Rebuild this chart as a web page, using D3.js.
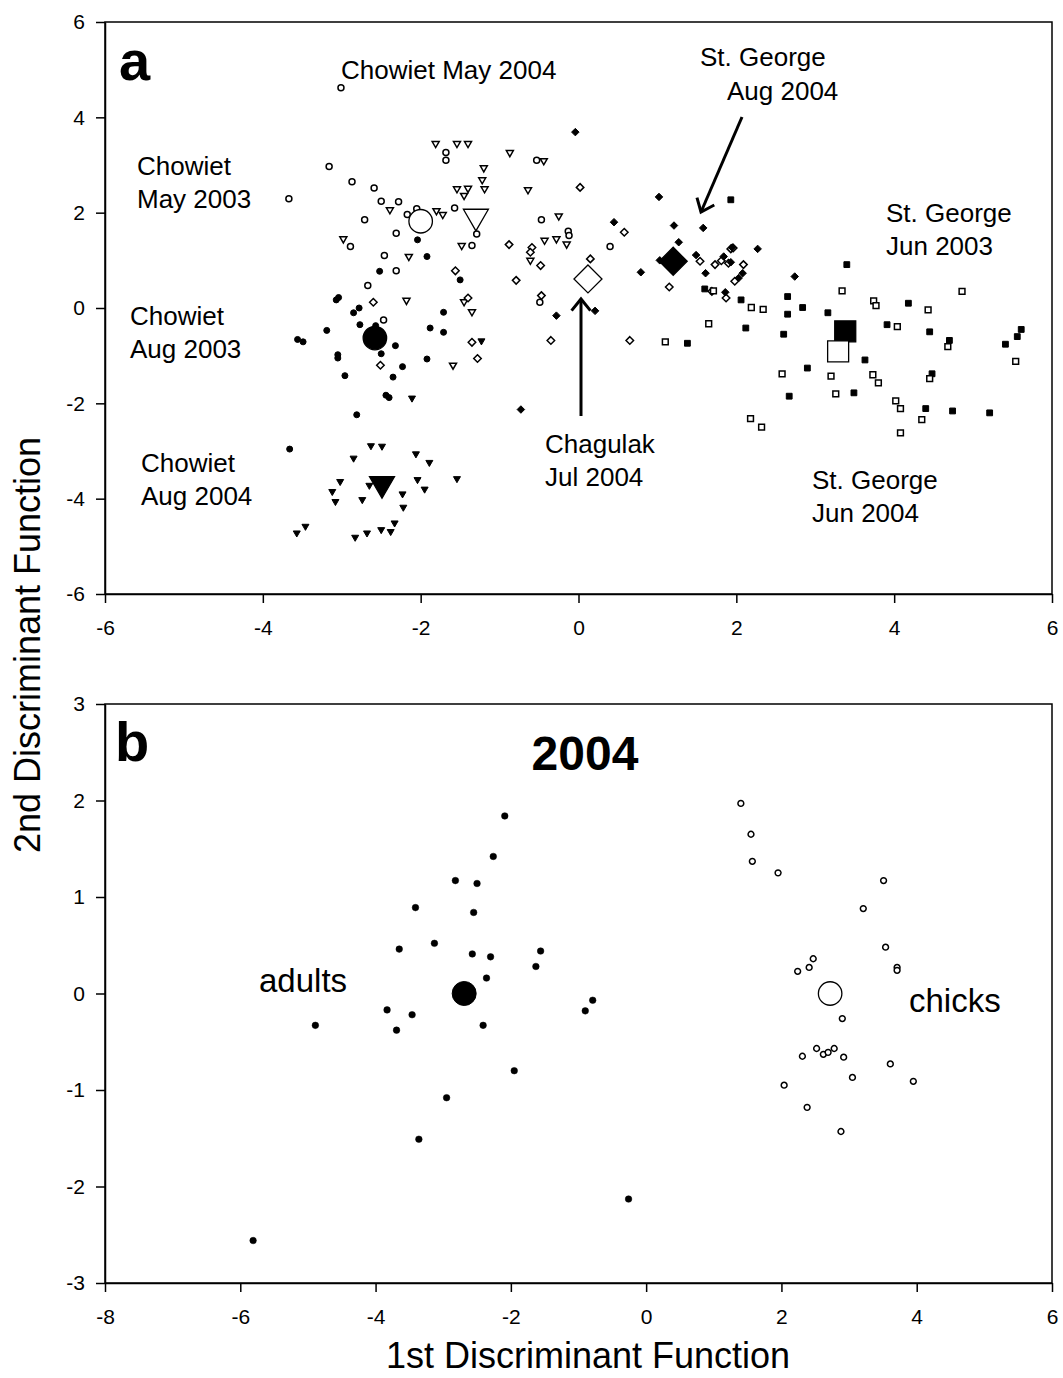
<!DOCTYPE html>
<html>
<head>
<meta charset="utf-8">
<script src="https://cdnjs.cloudflare.com/ajax/libs/d3/7.8.5/d3.min.js"></script>
<style>
	body { margin: 0; background: #fff; }
	svg { display: block; font-family: Arial, 'Liberation Sans', sans-serif; }
</style>
</head>
<body>
<svg id="chart" width="1063" height="1378"></svg>
<script>

// ---- panel a : [1st DF, 2nd DF]
var chowMay03 = [[-3.67,2.29],[-3.16,2.97],[-2.87,2.65],[-2.59,2.52],[-2.50,2.24],[-2.28,2.23],[-2.71,1.85],[-2.17,1.96],
	[-2.05,2.08],[-1.68,3.26],[-1.68,3.10],[-1.57,2.10],[-1.29,1.55],[-1.35,1.31],[-2.89,1.29],[-2.46,1.10],[-2.31,0.78],
	[-2.67,0.47],[-2.31,1.57],[-2.47,-0.25],[-0.53,3.10],[-0.47,1.85],[-0.13,1.61],[-0.12,1.52],[0.40,1.29],[-0.49,0.12],[-3.01,4.62]];
var chowMay04 = [[-1.81,3.45],[-1.54,3.45],[-1.40,3.45],[-0.87,3.26],[-1.20,2.94],[-1.22,2.69],[-1.54,2.50],[-1.40,2.51],
	[-1.45,2.36],[-1.19,2.50],[-2.39,2.06],[-1.80,2.04],[-1.72,1.96],[-2.98,1.45],[-1.48,1.31],[-2.15,1.08],[-2.18,0.16],
	[-1.35,-0.08],[-1.45,0.13],[-1.59,-1.20],[-0.44,3.09],[-0.64,2.48],[-0.25,1.93],[-0.43,1.42],[-0.28,1.45],[-0.15,1.34],[-0.61,1.00]];
var chowAug03 = [[-2.04,1.43],[-1.92,1.08],[-2.52,0.77],[-1.50,0.59],[-3.07,0.17],[-3.04,0.22],[-2.85,-0.10],[-2.78,0.00],
	[-1.71,-0.09],[-3.19,-0.47],[-2.77,-0.35],[-2.57,-0.37],[-3.56,-0.66],[-3.49,-0.71],[-2.32,-0.79],[-1.88,-0.42],[-1.71,-0.51],
	[-2.50,-0.96],[-3.05,-0.98],[-3.05,-1.05],[-1.92,-1.07],[-2.23,-1.23],[-2.96,-1.42],[-2.35,-1.45],[-2.44,-1.83],[-2.40,-1.88],
	[-2.81,-2.24],[-3.66,-2.96]];
var chowAug04 = [[-2.63,-2.89],[-2.49,-2.90],[-2.85,-3.15],[-2.06,-3.06],[-1.89,-3.24],[-3.02,-3.64],[-3.12,-3.85],[-3.08,-4.06],
	[-2.65,-3.72],[-2.74,-4.02],[-2.23,-3.90],[-2.04,-3.60],[-1.95,-3.80],[-1.54,-3.58],[-2.22,-4.18],[-2.33,-4.51],[-2.38,-4.69],
	[-2.50,-4.65],[-2.68,-4.72],[-2.83,-4.81],[-3.46,-4.58],[-3.57,-4.72],[-2.11,-1.89],[-1.23,-0.69]];
var chagJul04 = [[-0.88,1.33],[-0.79,0.58],[-1.56,0.78],[-1.40,0.21],[-2.60,0.12],[-1.35,-0.72],[-1.28,-1.06],[-2.51,-1.20],
	[0.02,2.53],[-0.59,1.27],[-0.61,1.17],[-0.48,0.89],[0.15,1.03],[-0.47,0.26],[0.58,1.59],[1.15,0.44],[1.54,0.98],[1.73,0.91],
	[1.81,0.99],[1.90,0.94],[1.93,1.24],[1.96,1.26],[2.09,0.91],[1.98,0.56],[1.69,0.35],[1.87,0.21],[-0.35,-0.68],[0.65,-0.68]];
var stgAug04 = [[-0.04,3.69],[1.02,2.33],[0.45,1.80],[1.21,1.73],[1.58,1.68],[1.27,1.38],[1.49,1.11],[1.03,1.00],[1.61,0.73],
	[0.79,0.75],[1.84,1.08],[1.95,1.27],[1.93,0.96],[2.08,0.73],[2.03,0.63],[1.86,0.33],[2.27,1.24],[-0.28,-0.16],[0.21,-0.06],
	[2.74,0.66],[-0.73,-2.13]];
var stgJun03 = [[1.93,2.27],[3.40,0.91],[1.60,0.40],[2.06,0.17],[2.65,0.24],[2.84,0.01],[2.65,-0.13],[3.16,-0.10],[2.12,-0.42],
	[2.60,-0.55],[1.38,-0.74],[4.18,0.10],[3.91,-0.35],[4.45,-0.50],[4.70,-0.68],[3.63,-1.09],[2.90,-1.26],[2.67,-1.85],
	[3.49,-1.78],[4.48,-1.38],[4.40,-2.11],[4.74,-2.16],[5.21,-2.20],[5.61,-0.45],[5.56,-0.60],[5.41,-0.76]];
var stgJun04 = [[1.65,-0.33],[2.19,0.01],[2.34,-0.03],[3.34,0.36],[3.74,0.15],[3.77,0.05],[4.43,-0.04],[4.04,-0.39],[4.86,0.35],
	[4.68,-0.81],[5.54,-1.12],[2.58,-1.38],[3.20,-1.43],[3.73,-1.40],[3.80,-1.57],[4.45,-1.48],[3.26,-1.80],[4.02,-1.95],
	[4.08,-2.11],[4.35,-2.34],[4.08,-2.62],[2.18,-2.32],[2.32,-2.50],[1.71,0.36],[1.10,-0.71]];
// group means
var centroidsA = [[-2.00,1.82],[-1.30,1.92],[-2.58,-0.63],[-2.49,-3.69],[0.12,0.61],[1.20,0.98],[3.38,-0.49],[3.29,-0.91]];

// ---- panel b (2004)
var adults = [[-2.09,1.84],[-2.26,1.42],[-2.82,1.17],[-2.50,1.14],[-3.41,0.89],[-2.55,0.84],[-3.65,0.46],[-3.13,0.52],
	[-2.57,0.41],[-2.30,0.38],[-1.56,0.44],[-1.63,0.28],[-2.36,0.16],[-3.83,-0.17],[-3.46,-0.22],[-3.69,-0.38],[-4.89,-0.33],
	[-2.41,-0.33],[-0.79,-0.07],[-0.90,-0.18],[-1.95,-0.80],[-2.95,-1.08],[-3.36,-1.51],[-5.81,-2.56],[-0.26,-2.13]];
var chicks = [[1.40,1.97],[1.55,1.65],[1.57,1.37],[1.95,1.25],[3.51,1.17],[3.21,0.88],[3.54,0.48],[3.71,0.27],[3.71,0.24],
	[2.47,0.36],[2.41,0.27],[2.24,0.23],[2.90,-0.26],[2.31,-0.65],[2.52,-0.57],[2.62,-0.63],[2.69,-0.61],[2.78,-0.57],
	[2.92,-0.66],[3.61,-0.73],[3.05,-0.87],[3.95,-0.91],[2.04,-0.95],[2.38,-1.18],[2.88,-1.43]];
var centroidsB = [[-2.69,0.00],[2.72,0.00]];

var ticksA = [-6, -4, -2, 0, 2, 4, 6];
var ticksBx = [-8, -6, -4, -2, 0, 2, 4, 6];
var ticksBy = [-3, -2, -1, 0, 1, 2, 3];

// marker look per group
var groupsA = [
	{pts: chowMay03, shape: 'circle', fill: false},
	{pts: chowMay04, shape: 'triangle', fill: false},
	{pts: chowAug03, shape: 'circle', fill: true},
	{pts: chowAug04, shape: 'triangle', fill: true},
	{pts: chagJul04, shape: 'diamond', fill: false},
	{pts: stgAug04, shape: 'diamond', fill: true},
	{pts: stgJun03, shape: 'square', fill: true},
	{pts: stgJun04, shape: 'square', fill: false}
];
var small = {circle: 6, triangle: 7, diamond: 7.5, square: 5.8};
var big = {circle: 23.5, triangle: 25, diamond: 28, square: 21};

function shapePath(type, w) {
	var h = w / 2, p = d3.path();
	if (type == 'circle') {
		p.arc(0, 0, h, 0, 2 * Math.PI);
	} else if (type == 'square') {
		p.rect(-h, -h, w, w);
	} else if (type == 'diamond') {
		p.moveTo(0, -h); p.lineTo(h, 0); p.lineTo(0, h); p.lineTo(-h, 0); p.closePath();
	} else {
		var t = w * 0.866;
		p.moveTo(-h, -t / 3); p.lineTo(h, -t / 3); p.lineTo(0, 2 * t / 3); p.closePath();
	}
	return p.toString();
}

var svg = d3.select('#chart');
var L = 105, R = 1052;
var plain = function (d) { return String(d); };

function frame(x, y, xt, yt) {
	var g = svg.append('g');
	g.append('g')
		.attr('transform', 'translate(0,' + y.range()[0] + ')')
		.call(d3.axisBottom(x).tickValues(xt).tickFormat(plain).tickSize(9).tickSizeOuter(0).tickPadding(17));
	g.append('g')
		.attr('transform', 'translate(' + L + ',0)')
		.call(d3.axisLeft(y).tickValues(yt).tickFormat(plain).tickSize(9).tickSizeOuter(0).tickPadding(11));
	g.selectAll('text')
		.attr('font-size', 21)
		.attr('font-family', 'Arial, Liberation Sans, sans-serif')
		.attr('fill', '#000');
	g.selectAll('line, path').attr('stroke', '#000').attr('stroke-width', 1.5);
	g.append('rect')
		.attr('x', L)
		.attr('y', y.range()[1])
		.attr('width', R - L)
		.attr('height', y.range()[0] - y.range()[1])
		.attr('fill', 'none')
		.attr('stroke', '#000')
		.attr('stroke-width', 1.5);
}

function marks(x, y, pts, shape, fill, w, sw) {
	svg.append('g').selectAll('path')
		.data(pts)
		.enter()
		.append('path')
		.attr('transform', function (d) { return 'translate(' + x(d[0]) + ',' + y(d[1]) + ')'; })
		.attr('d', shapePath(shape, w))
		.attr('fill', fill ? '#000' : '#fff')
		.attr('stroke', '#000')
		.attr('stroke-width', sw);
}

function label(txt, x, y, size, bold) {
	svg.append('text')
		.attr('x', x)
		.attr('y', y)
		.attr('font-size', size)
		.attr('font-weight', bold ? 'bold' : 'normal')
		.attr('fill', '#000')
		.text(txt);
}

function arrow(x1, y1, x2, y2) {
	var a = Math.atan2(y2 - y1, x2 - x1), len = 15, sp = 0.68;
	svg.append('line')
		.attr('x1', x1).attr('y1', y1).attr('x2', x2).attr('y2', y2)
		.attr('stroke', '#000').attr('stroke-width', 3);
	svg.append('polyline')
		.attr('points', (x2 - len * Math.cos(a - sp)) + ',' + (y2 - len * Math.sin(a - sp)) + ' ' + x2 + ',' + y2 + ' ' +
			(x2 - len * Math.cos(a + sp)) + ',' + (y2 - len * Math.sin(a + sp)))
		.attr('fill', 'none').attr('stroke', '#000').attr('stroke-width', 3);
}

// ---- panel a
var xa = d3.scaleLinear().domain([-6, 6]).range([L, R]);
var ya = d3.scaleLinear().domain([-6, 6]).range([594, 22]);
frame(xa, ya, ticksA, ticksA);

groupsA.forEach(function (g) {
	marks(xa, ya, g.pts, g.shape, g.fill, small[g.shape], g.fill ? 1 : 1.5);
});
groupsA.forEach(function (g, i) {
	marks(xa, ya, [centroidsA[i]], g.shape, g.fill, big[g.shape], 1.3);
});

label('a', 119, 80, 56, true);
label('Chowiet May 2004', 341, 79, 26);
label('Chowiet', 137, 175, 26);
label('May 2003', 137, 208, 26);
label('Chowiet', 130, 325, 26);
label('Aug 2003', 130, 358, 26);
label('Chowiet', 141, 472, 26);
label('Aug 2004', 141, 505, 26);
label('St. George', 700, 66, 26);
label('Aug 2004', 727, 100, 26);
label('St. George', 886, 222, 26);
label('Jun 2003', 886, 255, 26);
label('St. George', 812, 489, 26);
label('Jun 2004', 812, 522, 26);
label('Chagulak', 545, 453, 26);
label('Jul 2004', 545, 486, 26);
arrow(742, 117, 701, 212);
arrow(581, 416, 581, 299);

// ---- panel b
var xb = d3.scaleLinear().domain([-8, 6]).range([L, R]);
var yb = d3.scaleLinear().domain([-3, 3]).range([1283, 704]);
frame(xb, yb, ticksBx, ticksBy);

marks(xb, yb, adults, 'circle', true, 6.6, 0.5);
marks(xb, yb, chicks, 'circle', false, 5.8, 1.5);
marks(xb, yb, [centroidsB[0]], 'circle', true, 24, 1);
marks(xb, yb, [centroidsB[1]], 'circle', false, 23.5, 1.3);

label('b', 115, 761, 56, true);
svg.append('text')
	.attr('x', 585).attr('y', 770)
	.attr('text-anchor', 'middle')
	.attr('font-size', 48).attr('font-weight', 'bold')
	.text('2004');
label('adults', 259, 992, 33);
label('chicks', 909, 1012, 33);

// axis titles
svg.append('text')
	.attr('x', 588).attr('y', 1368)
	.attr('text-anchor', 'middle')
	.attr('font-size', 36)
	.text('1st Discriminant Function');
svg.append('text')
	.attr('transform', 'translate(40,645) rotate(-90)')
	.attr('text-anchor', 'middle')
	.attr('font-size', 36)
	.text('2nd Discriminant Function');

</script>
</body>
</html>
